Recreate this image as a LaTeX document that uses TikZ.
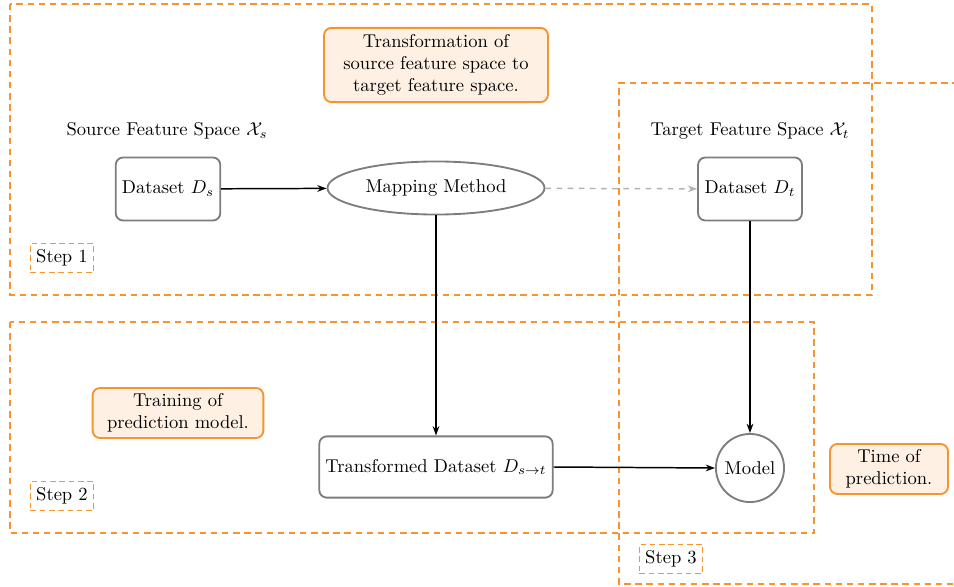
\documentclass[tikz,border=0pt]{standalone}
\usetikzlibrary{shapes.geometric,arrows.meta}
\definecolor{stepor}{RGB}{247,148,48}
\definecolor{notefill}{RGB}{254,240,227}
\definecolor{boxgray}{RGB}{125,125,125}
\begin{document}
\begin{tikzpicture}[x=0.539pt,y=-0.539pt,
  stepframe/.style={draw=stepor,line width=1pt,dash pattern=on 3.5pt off 2.5pt},
  steptag/.style={draw=stepor,line width=1pt,dash pattern=on 3pt off 2pt,minimum width=34pt,minimum height=15.6pt,inner sep=1pt},
  note/.style={draw=stepor,line width=1pt,fill=notefill,rounded corners=4pt,align=center,inner sep=2pt},
  databox/.style={draw=boxgray,line width=1pt,rounded corners=4pt,minimum height=34pt},
  conn/.style={-{Stealth[length=5pt,width=3.6pt]},thick},
  hint/.style={-{Stealth[length=5pt,width=3.6pt]},thick,dashed,draw=black!30}]
\useasboundingbox (0,0) rectangle (954,587);

% Step frames
\draw[stepframe] (10,4) rectangle (872,295);
\draw[stepframe] (10,322) rectangle (814,533);
\draw[stepframe] (970,83) -- (619,83) -- (619,584) -- (970,584);

% Step tags
\node[steptag] (s1) at (62,258) {Step 1};
\node[steptag] (s2) at (62,496) {Step 2};
\node[steptag] (s3) at (671,559) {Step 3};

% Notes
\node[note,minimum width=120.7pt,minimum height=40pt] (n1) at (436,65)
  {Transformation of\\source feature space to\\target feature space.};
\node[note,minimum width=92pt,minimum height=27pt] (n2) at (178,413)
  {Training of\\prediction model.};
\node[note,minimum width=63.6pt,minimum height=27pt] (n3) at (889,469)
  {Time of\\prediction.};

% Space labels
\node (src) at (167,131) {Source Feature Space $\mathcal{X}_s$};
\node (tgt) at (750,131) {Target Feature Space $\mathcal{X}_t$};

% Main nodes
\node[databox,minimum width=56pt] (ds) at (168,189) {Dataset $D_s$};
\node[draw=boxgray,line width=1pt,ellipse,minimum width=117pt,minimum height=28.6pt,inner sep=1pt] (map) at (436,188) {Mapping Method};
\node[databox,minimum width=56pt] (dt) at (750,189) {Dataset $D_t$};
\node[databox,minimum width=125.6pt,minimum height=33pt] (tds) at (436,467) {Transformed Dataset $D_{s\to t}$};
\node[draw=boxgray,line width=1pt,circle,minimum size=36.7pt,inner sep=1pt] (model) at (750,468) {Model};

% Connectors
\draw[conn] (ds) -- (map);
\draw[hint] (map) -- (dt);
\draw[conn] (map) -- (tds);
\draw[conn] (dt) -- (model);
\draw[conn] (tds.east) -- (model.west);
\end{tikzpicture}
\end{document}
